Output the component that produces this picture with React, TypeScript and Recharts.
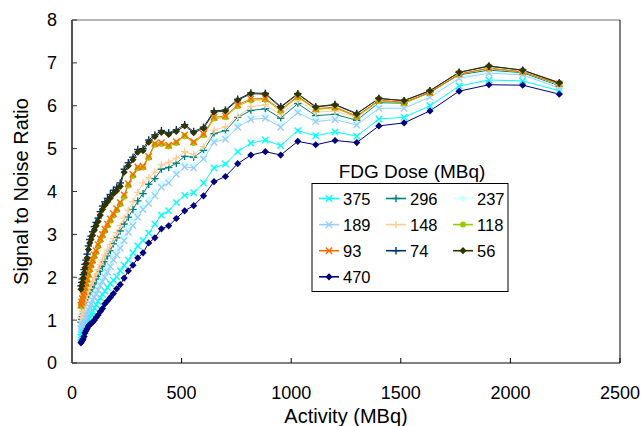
import { LineChart, Line, XAxis, YAxis, ReferenceLine } from 'recharts';

document.body.style.margin = '0';

const FONT = '"Liberation Sans", Arial, sans-serif';

// Activity (MBq) at each acquisition, shared by every dose curve
const activity = [
  41, 44, 47, 51, 55, 59, 64, 69, 75, 81,
  87, 94, 102, 110, 119, 129, 139, 150, 162, 175,
  189, 204, 220, 238, 257, 278, 300, 324, 350, 378,
  408, 441, 476, 514, 555, 600, 648, 700, 756, 816,
  882, 952, 1030, 1112, 1200, 1299, 1400, 1515, 1633, 1766,
  1902, 2056, 2223,
];

const dose375 = [
  0.60, 0.66, 0.72, 0.78, 0.84, 0.88, 0.92, 0.96, 1.02, 1.08,
  1.14, 1.20, 1.28, 1.36, 1.44, 1.52, 1.60, 1.68, 1.76, 1.85,
  1.93, 2.01, 2.15, 2.28, 2.40, 2.57, 2.73, 2.86, 3.03, 3.24,
  3.45, 3.55, 3.74, 3.91, 3.97, 4.20, 4.55, 4.64, 4.93, 5.13,
  5.20, 5.07, 5.42, 5.30, 5.39, 5.29, 5.69, 5.73, 6.00, 6.46,
  6.60, 6.58, 6.35,
];
const dose296 = [
  0.95, 1.02, 1.08, 1.14, 1.20, 1.26, 1.33, 1.40, 1.48, 1.56,
  1.64, 1.72, 1.82, 1.90, 2.02, 2.14, 2.25, 2.36, 2.50, 2.62,
  2.78, 2.92, 3.08, 3.24, 3.40, 3.58, 3.78, 3.95, 4.17, 4.30,
  4.52, 4.56, 4.66, 4.82, 4.80, 4.96, 5.35, 5.42, 5.73, 5.89,
  5.93, 5.71, 6.05, 5.77, 5.80, 5.66, 6.07, 6.06, 6.32, 6.72,
  6.83, 6.77, 6.46,
];
const dose237 = [
  0.86, 0.92, 0.98, 1.03, 1.08, 1.13, 1.19, 1.25, 1.31, 1.38,
  1.46, 1.54, 1.61, 1.69, 1.79, 1.89, 1.99, 2.10, 2.22, 2.35,
  2.50, 2.63, 2.79, 2.96, 3.16, 3.31, 3.51, 3.68, 3.82, 3.99,
  4.19, 4.28, 4.47, 4.64, 4.62, 4.82, 5.21, 5.28, 5.56, 5.74,
  5.77, 5.56, 5.90, 5.68, 5.72, 5.59, 5.99, 5.98, 6.24, 6.67,
  6.79, 6.74, 6.44,
];
const dose189 = [
  0.80, 0.86, 0.92, 0.97, 1.02, 1.06, 1.12, 1.18, 1.24, 1.30,
  1.38, 1.46, 1.53, 1.60, 1.70, 1.80, 1.90, 2.00, 2.12, 2.25,
  2.40, 2.52, 2.68, 2.85, 3.05, 3.20, 3.40, 3.58, 3.72, 3.90,
  4.10, 4.20, 4.40, 4.57, 4.55, 4.76, 5.15, 5.22, 5.50, 5.68,
  5.71, 5.50, 5.84, 5.63, 5.68, 5.55, 5.94, 5.94, 6.20, 6.64,
  6.76, 6.72, 6.41,
];
const dose148 = [
  1.05, 1.13, 1.21, 1.29, 1.36, 1.43, 1.50, 1.58, 1.66, 1.74,
  1.82, 1.90, 1.99, 2.08, 2.18, 2.30, 2.40, 2.52, 2.64, 2.76,
  2.90, 3.04, 3.20, 3.38, 3.56, 3.76, 3.98, 4.20, 4.32, 4.45,
  4.62, 4.68, 4.78, 4.93, 4.86, 5.05, 5.43, 5.51, 5.75, 5.98,
  6.02, 5.80, 6.12, 5.85, 5.88, 5.72, 6.12, 6.10, 6.36, 6.76,
  6.86, 6.80, 6.49,
];
const dose118 = [
  1.32, 1.39, 1.47, 1.55, 1.63, 1.72, 1.82, 1.92, 2.04, 2.16,
  2.26, 2.36, 2.48, 2.58, 2.72, 2.86, 2.96, 3.08, 3.20, 3.32,
  3.44, 3.56, 3.70, 3.88, 4.14, 4.36, 4.54, 4.56, 4.79, 5.09,
  5.11, 5.05, 5.13, 5.29, 5.13, 5.31, 5.70, 5.73, 5.99, 6.13,
  6.14, 5.88, 6.20, 5.91, 5.95, 5.74, 6.11, 6.06, 6.30, 6.73,
  6.87, 6.78, 6.50,
];
const dose93 = [
  1.35, 1.42, 1.50, 1.58, 1.66, 1.76, 1.86, 1.96, 2.08, 2.20,
  2.30, 2.40, 2.52, 2.62, 2.76, 2.90, 3.00, 3.12, 3.24, 3.36,
  3.48, 3.60, 3.74, 3.92, 4.18, 4.40, 4.57, 4.59, 4.82, 5.12,
  5.14, 5.08, 5.16, 5.32, 5.16, 5.34, 5.73, 5.76, 6.02, 6.16,
  6.17, 5.91, 6.22, 5.93, 5.97, 5.76, 6.13, 6.08, 6.31, 6.74,
  6.88, 6.79, 6.51,
];
const dose74 = [
  1.80, 1.88, 1.96, 2.06, 2.18, 2.30, 2.40, 2.54, 2.73, 2.88,
  2.96, 3.06, 3.18, 3.28, 3.38, 3.53, 3.66, 3.76, 3.84, 3.93,
  4.03, 4.10, 4.20, 4.52, 4.67, 4.80, 4.98, 5.00, 5.20, 5.32,
  5.42, 5.37, 5.44, 5.56, 5.40, 5.50, 5.88, 5.90, 6.15, 6.30,
  6.29, 5.98, 6.28, 5.98, 6.03, 5.82, 6.17, 6.12, 6.35, 6.78,
  6.92, 6.83, 6.53,
];
const dose56 = [
  1.72, 1.80, 1.88, 1.98, 2.10, 2.22, 2.32, 2.45, 2.65, 2.80,
  2.88, 2.98, 3.10, 3.20, 3.30, 3.45, 3.58, 3.68, 3.76, 3.85,
  3.95, 4.02, 4.12, 4.45, 4.60, 4.74, 4.92, 4.95, 5.15, 5.28,
  5.38, 5.33, 5.40, 5.53, 5.37, 5.47, 5.85, 5.88, 6.13, 6.28,
  6.27, 5.96, 6.27, 5.97, 6.02, 5.81, 6.17, 6.12, 6.35, 6.78,
  6.93, 6.83, 6.54,
];
const dose470 = [
  0.47, 0.50, 0.53, 0.56, 0.62, 0.70, 0.75, 0.80, 0.86, 0.90,
  0.92, 0.95, 1.00, 1.06, 1.12, 1.20, 1.27, 1.38, 1.45, 1.53,
  1.62, 1.73, 1.83, 1.98, 2.15, 2.28, 2.45, 2.57, 2.80, 2.92,
  3.13, 3.20, 3.37, 3.55, 3.67, 3.90, 4.23, 4.35, 4.65, 4.85,
  4.93, 4.85, 5.17, 5.09, 5.19, 5.14, 5.53, 5.60, 5.88, 6.34,
  6.49, 6.48, 6.27,
];

const xTicks = [0, 500, 1000, 1500, 2000, 2500];
const yTicks = [0, 1, 2, 3, 4, 5, 6, 7, 8];

type MarkerKind = 'x' | 'plus' | 'diamond' | 'circle';

interface Series {
  key: string;
  label: string;
  color: string;
  marker: MarkerKind;
  values: number[];
}

const seriesList: Series[] = [
  { key: 'd375', label: '375', color: '#00FFFF', marker: 'x', values: dose375 },
  { key: 'd296', label: '296', color: '#008080', marker: 'plus', values: dose296 },
  { key: 'd237', label: '237', color: '#CCFFFF', marker: 'diamond', values: dose237 },
  { key: 'd189', label: '189', color: '#99CCFF', marker: 'x', values: dose189 },
  { key: 'd148', label: '148', color: '#FFCC99', marker: 'plus', values: dose148 },
  { key: 'd118', label: '118', color: '#99CC00', marker: 'circle', values: dose118 },
  { key: 'd93', label: '93', color: '#FF6600', marker: 'x', values: dose93 },
  { key: 'd74', label: '74', color: '#003366', marker: 'plus', values: dose74 },
  { key: 'd56', label: '56', color: '#333300', marker: 'diamond', values: dose56 },
  { key: 'd470', label: '470', color: '#000080', marker: 'diamond', values: dose470 },
];

const chartData = activity.map((a, i) => {
  const row: Record<string, number> = { activity: a };
  seriesList.forEach(s => { row[s.key] = s.values[i]; });
  return row;
});

function Marker({ kind, cx, cy, color }: { kind: MarkerKind; cx: number; cy: number; color: string }) {
  if (cx == null || cy == null) return null;
  const r = 3.2;
  switch (kind) {
    case 'x':
      return (
        <g stroke={color} strokeWidth={1.4}>
          <line x1={cx - r} y1={cy - r} x2={cx + r} y2={cy + r} />
          <line x1={cx - r} y1={cy + r} x2={cx + r} y2={cy - r} />
        </g>
      );
    case 'plus':
      return (
        <g stroke={color} strokeWidth={1.4}>
          <line x1={cx - r - 0.5} y1={cy} x2={cx + r + 0.5} y2={cy} />
          <line x1={cx} y1={cy - r - 0.5} x2={cx} y2={cy + r + 0.5} />
        </g>
      );
    case 'diamond':
      return (
        <polygon
          points={`${cx},${cy - 3.6} ${cx + 3.6},${cy} ${cx},${cy + 3.6} ${cx - 3.6},${cy}`}
          fill={color}
        />
      );
    default:
      return <circle cx={cx} cy={cy} r={3} fill={color} />;
  }
}

function DoseLegend() {
  const cols = [19, 86, 153];
  return (
    <svg style={{ position: 'absolute', left: 300, top: 150 }} width={220} height={146}>
      <text x={112} y={27.5} textAnchor="middle" fontSize={19} fontFamily={FONT} fill="#000">
        FDG Dose (MBq)
      </text>
      <rect x={12} y={33.5} width={196} height={108} fill="#fff" stroke="#000" strokeWidth={1} />
      {seriesList.map((s, i) => {
        const lx = cols[i % 3];
        const ly = 48.5 + Math.floor(i / 3) * 26.1;
        return (
          <g key={s.key}>
            <line x1={lx} x2={lx + 20} y1={ly} y2={ly} stroke={s.color} strokeWidth={1.6} />
            <Marker kind={s.marker} cx={lx + 10} cy={ly} color={s.color} />
            <text x={lx + 24} y={ly + 6} fontSize={16.5} fontFamily={FONT} fill="#000">
              {s.label}
            </text>
          </g>
        );
      })}
    </svg>
  );
}

export default function App() {
  const tickStyle = { fill: '#000', fontSize: 18, fontFamily: FONT };
  return (
    <div style={{ position: 'relative', width: 641, height: 426, background: '#fff' }}>
      <LineChart
        width={641}
        height={426}
        data={chartData}
        margin={{ top: 20, right: 0, left: 0, bottom: 0 }}
      >
        <XAxis
          dataKey="activity"
          type="number"
          domain={[0, 2500]}
          ticks={xTicks}
          height={63}
          tickSize={-5}
          tickMargin={28}
          tick={tickStyle}
          axisLine={{ stroke: '#000', strokeWidth: 1 }}
          tickLine={{ stroke: '#000' }}
          label={{
            value: 'Activity (MBq)',
            position: 'insideBottom',
            offset: 3,
            style: { fill: '#000', fontSize: 20, fontFamily: FONT },
          }}
        />
        <YAxis
          type="number"
          domain={[0, 8]}
          ticks={yTicks}
          width={72}
          tickSize={-5}
          tickMargin={20}
          tick={tickStyle}
          axisLine={{ stroke: '#555', strokeWidth: 2 }}
          tickLine={{ stroke: '#333' }}
          label={{
            value: 'Signal to Noise Ratio',
            angle: -90,
            position: 'insideLeft',
            offset: 21,
            style: { fill: '#000', fontSize: 20, fontFamily: FONT, textAnchor: 'middle' },
          }}
        />
        <YAxis
          yAxisId="right"
          orientation="right"
          type="number"
          domain={[0, 8]}
          ticks={yTicks}
          width={21}
          tickSize={-4}
          tick={false}
          axisLine={{ stroke: '#000', strokeWidth: 1 }}
          tickLine={{ stroke: '#000' }}
        />
        <ReferenceLine y={8} stroke="#b5b5b5" strokeWidth={2} />
        {seriesList.map(s => (
          <Line
            key={s.key}
            type="linear"
            dataKey={s.key}
            stroke={s.color}
            strokeWidth={1}
            isAnimationActive={false}
            dot={(p: any) => (
              <Marker key={`${s.key}-${p.index}`} kind={s.marker} cx={p.cx} cy={p.cy} color={s.color} />
            )}
            activeDot={false}
          />
        ))}
      </LineChart>
      <DoseLegend />
    </div>
  );
}
